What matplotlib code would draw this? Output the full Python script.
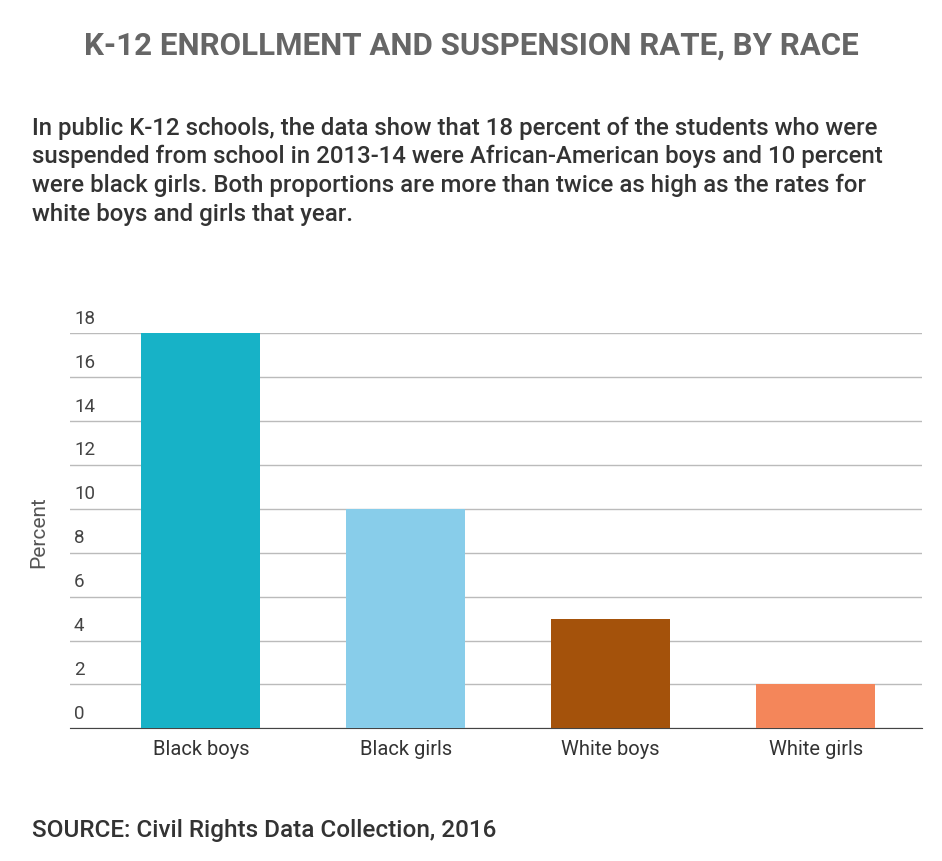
import matplotlib
matplotlib.use("Agg")
import matplotlib.pyplot as plt

categories = ["Black boys", "Black girls", "White boys", "White girls"]
values = [18, 10, 5, 2]
colors = ["#17b2c7", "#88cdea", "#a4520b", "#f4865a"]
yticks = [0, 2, 4, 6, 8, 10, 12, 14, 16, 18]

plt.rcParams['font.family'] = ['Roboto', 'DejaVu Sans']
fig = plt.figure(figsize=(9.42, 8.62), dpi=100)
ax = fig.add_axes([0.074, 0.154, 0.905, 0.458])
ax.bar(range(len(values)), values, width=0.58, color=colors, zorder=3)
ax.set_xlim(-0.64, 3.52)
ax.set_ylim(0, 18)
ax.set_yticks(yticks)
ax.yaxis.grid(True, color="#bbbbbb", lw=1, zorder=0)
ax.set_yticklabels([])
for t in yticks:
    ax.text(0.005, t + 0.3, str(t), transform=ax.get_yaxis_transform(),
            ha="left", va="bottom", fontsize=13.5, color="#444444")
ax.tick_params(axis="y", length=0)
ax.tick_params(axis="x", length=0, pad=8, labelsize=14.5, labelcolor="#333333")
ax.set_xticks(range(len(categories)))
ax.set_xticklabels(categories)
for s in ["top", "right", "left"]:
    ax.spines[s].set_visible(False)
ax.spines["bottom"].set_color("#444444")
ax.set_ylabel("Percent", fontsize=15, color="#555555", labelpad=2)
ax.yaxis.set_label_coords(-0.025, 0.5)

fig.text(0.5, 0.947, "K-12 ENROLLMENT AND SUSPENSION RATE, BY RACE",
         ha="center", va="center", fontsize=22.5, fontweight="bold", color="#666666")
body = ("In public K-12 schools, the data show that 18 percent of the students who were\n"
        "suspended from school in 2013-14 were African-American boys and 10 percent\n"
        "were black girls. Both proportions are more than twice as high as the rates for\n"
        "white boys and girls that year.")
fig.text(0.034, 0.865, body, ha="left", va="top", fontsize=17.3, color="#333333",
         fontweight="medium", linespacing=1.3)
fig.text(0.034, 0.036, "SOURCE: Civil Rights Data Collection, 2016", ha="left",
         va="center", fontsize=17.5, color="#333333", fontweight="medium")
fig.savefig("out.png", dpi=100)
